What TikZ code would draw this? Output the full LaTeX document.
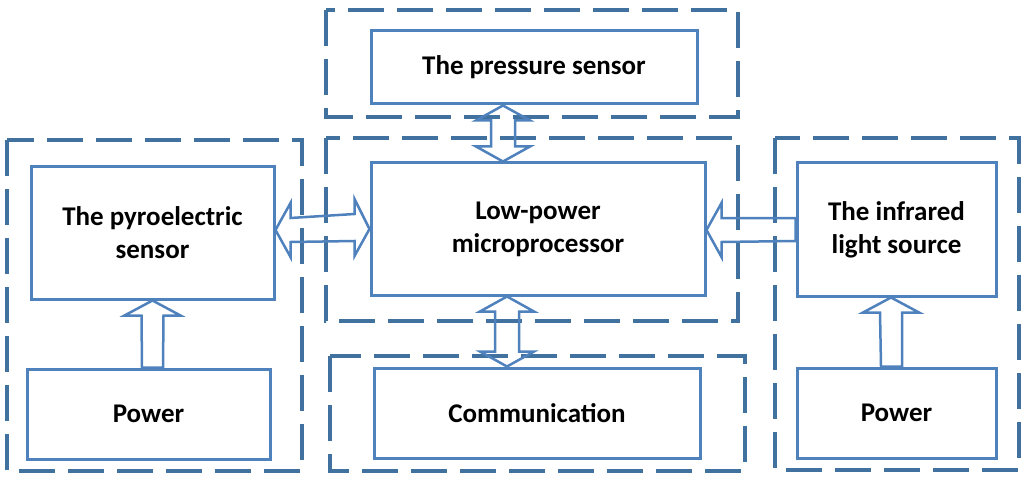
\documentclass[tikz,border=0pt]{standalone}
\usepackage{fontspec}
\setmainfont{Carlito}
\usetikzlibrary{calc}
\definecolor{boxblue}{HTML}{4F81BD}
\definecolor{dashblue}{HTML}{41719F}
\begin{document}
\begin{tikzpicture}[x=1pt,y=-1pt,
  box/.style={draw=boxblue, line width=3pt, rectangle, inner sep=0pt, align=center,
    font=\fontsize{27}{33}\selectfont\bfseries},
  group/.style={draw=dashblue, line width=4pt, dash pattern=on 36pt off 13pt},
  flow/.style={draw=boxblue, line width=2.5pt, line join=miter}]
\useasboundingbox (0,0) rectangle (1024,481);

% dashed groups
\draw[group] (7,140) rectangle (302,471);
\draw[group] (326,10) rectangle (738,117);
\draw[group] (326,138) rectangle (738,321);
\draw[group] (330,356) rectangle (745,471);
\draw[group] (775,138) rectangle (1019,470);

% blocks
\node[box, minimum width=243pt, minimum height=132pt] (pyro) at (152.5,233) {The pyroelectric\\sensor};
\node[box, minimum width=243pt, minimum height=90pt] (pwl) at (148.5,414) {Power};
\node[box, minimum width=326pt, minimum height=73pt] (pres) at (534,67.5) {The pressure sensor};
\node[box, minimum width=334pt, minimum height=132pt] (mcu) at (538,229) {Low-power\\microprocessor};
\node[box, minimum width=326pt, minimum height=90pt] (comm) at (537,413) {Communication};
\node[box, minimum width=199pt, minimum height=133pt] (ir) at (896.5,229.5) {The infrared\\light source};
\node[box, minimum width=199pt, minimum height=90pt] (pwr) at (896.5,413) {Power};

% connectors: hollow block arrows
% pressure <-> microprocessor
\draw[flow] ($(pres.south)+(-31,0)$) -- ++(27,15) -- ++(-15,0)
  -- ($(mcu.north)+(-23,-15)$) -- ++(15,0) -- ($(mcu.north)+(-35,0)$)
  -- ++(-27,-15) -- ++(15,0) -- ($(pres.south)+(-43,15)$) -- ++(-15,0) -- cycle;
% microprocessor <-> communication
\draw[flow] ($(mcu.south)+(-31,0)$) -- ++(27,15) -- ++(-15,0)
  -- ($(comm.north)+(-18,-15)$) -- ++(15,0) -- ($(comm.north)+(-30,0)$)
  -- ++(-27,-15) -- ++(15,0) -- ($(mcu.south)+(-43,15)$) -- ++(-15,0) -- cycle;
% pyroelectric <-> microprocessor
\draw[flow] ($(pyro.east)+(0,-3)$) -- ++(15,-27) -- ++(0,15)
  -- ($(mcu.west)+(-15,-15)$) -- ++(0,-15) -- ($(mcu.west)+(0,0)$)
  -- ++(-15,27) -- ++(0,-15) -- ($(pyro.east)+(15,9)$) -- ++(0,15) -- cycle;
% infrared -> microprocessor
\draw[flow] ($(mcu.east)+(0,1)$) -- ++(15,-27) -- ++(0,15)
  -- ($(ir.west)+(0,-11.5)$) -- ++(0,23) -- ($(mcu.east)+(15,13)$)
  -- ++(0,15) -- cycle;
% power -> pyroelectric
\draw[flow] ($(pyro.south)+(0,0)$) -- ++(28,15) -- ++(-17,0)
  -- ($(pwl.north)+(14.5,0)$) -- ++(-21,0) -- ($(pyro.south)+(-11,15)$)
  -- ++(-17,0) -- cycle;
% power -> infrared
\draw[flow] ($(ir.south)+(-5.5,0)$) -- ++(28,15) -- ++(-17,0)
  -- ($(pwr.north)+(5.5,0)$) -- ++(-21,0) -- ($(ir.south)+(-16.5,15)$)
  -- ++(-17,0) -- cycle;
\end{tikzpicture}
\end{document}
